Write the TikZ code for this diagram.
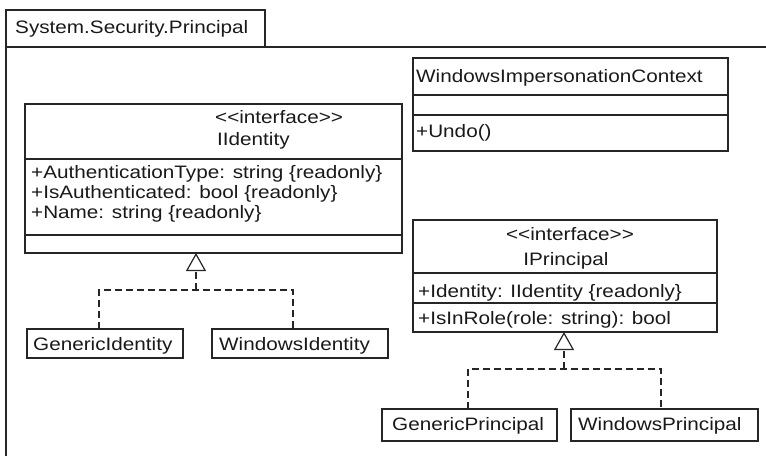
\documentclass[tikz,border=0pt]{standalone}
\usepackage{fontspec}
\setmainfont{Liberation Sans}[FakeStretch=1.15]
\usetikzlibrary{arrows.meta,calc}
\newcommand\stereo[1]{<\kern0pt<#1>\kern0pt>}
\begin{document}
\begin{tikzpicture}[x=1pt,y=-1pt,
  ln/.style={draw=black!85, line width=1.2pt},
  box/.style={ln, anchor=north west, inner sep=0pt, outer sep=0pt},
  txt/.style={anchor=base west, inner sep=0pt, font=\fontsize{18}{20}\selectfont, text=black!90},
  ctxt/.style={txt, anchor=base},
  real/.style={ln, dash pattern=on 7pt off 4pt},
  gen/.style={-{Triangle[open, length=18pt, width=20pt, line width=1.2pt]}}
]
\useasboundingbox (0,0) rectangle (766,456);

% package frame
\node[box, minimum width=259pt, minimum height=37pt] (tab) at (6,10) {};
\coordinate (frameTR) at (766,47);
\coordinate (frameBL) at (6,456);
\draw[ln] (frameTR) -- (tab.south west) -- (frameBL);
\node[txt] (title) at (15,33) {System.Security.Principal};

% IIdentity
\node[box, minimum width=377pt, minimum height=149pt] (iid) at (25,104) {};
\draw[ln] ($(iid.north west)+(0,55)$) -- ($(iid.north east)+(0,55)$);
\draw[ln] ($(iid.north west)+(0,131)$) -- ($(iid.north east)+(0,131)$);
\node[txt] (iidst) at (215,123) {\stereo{interface}};
\node[txt] (iidname) at (217,145) {IIdentity};
\node[txt] (iida1) at (31,178) {+AuthenticationType: string \{readonly\}};
\node[txt] (iida2) at (31,198) {+IsAuthenticated: bool \{readonly\}};
\node[txt] (iida3) at (31,218) {+Name: string \{readonly\}};

% WindowsImpersonationContext
\node[box, minimum width=315pt, minimum height=93pt] (wic) at (413,58) {};
\draw[ln] ($(wic.north west)+(0,37)$) -- ($(wic.north east)+(0,37)$);
\draw[ln] ($(wic.north west)+(0,57)$) -- ($(wic.north east)+(0,57)$);
\node[txt] (wicname) at (416,82) {WindowsImpersonationContext};
\node[txt] (wicop) at (416,137) {+Undo()};

% IPrincipal
\node[box, minimum width=304pt, minimum height=112pt] (ip) at (413,220) {};
\draw[ln] ($(ip.north west)+(0,53)$) -- ($(ip.north east)+(0,53)$);
\draw[ln] ($(ip.north west)+(0,83)$) -- ($(ip.north east)+(0,83)$);
\node[ctxt] (ipst) at (570,240) {\stereo{interface}};
\node[ctxt] (ipname) at (566,265) {IPrincipal};
\node[txt] (ipa1) at (418,297) {+Identity: IIdentity \{readonly\}};
\node[txt] (ipo1) at (418,324) {+IsInRole(role: string): bool};

% implementing classes
\node[box, minimum width=156pt, minimum height=29pt] (gi) at (27,329) {};
\node[txt] (giname) at (33,350) {GenericIdentity};
\node[box, minimum width=176pt, minimum height=29pt] (wi) at (212,329) {};
\node[txt] (winame) at (219,350) {WindowsIdentity};
\node[box, minimum width=175pt, minimum height=32pt] (gp) at (382,409) {};
\node[txt] (gpname) at (392,430) {GenericPrincipal};
\node[box, minimum width=187pt, minimum height=32pt] (wp) at (571,409) {};
\node[txt] (wpname) at (578,430) {WindowsPrincipal};

% realizations
\coordinate (j1) at (196,290);
\draw[real] ($(gi.north)+(-6,0)$) |- (j1) -| ($(wi.north)+(-7,0)$);
\draw[real, gen] (j1) -- (j1 |- iid.south);
\coordinate (j2) at (564,369);
\draw[real] ($(gp.north)+(-1.5,0)$) |- (j2) -| ($(wp.north)+(-3.5,0)$);
\draw[real, gen] (j2) -- (j2 |- ip.south);
\end{tikzpicture}
\end{document}
